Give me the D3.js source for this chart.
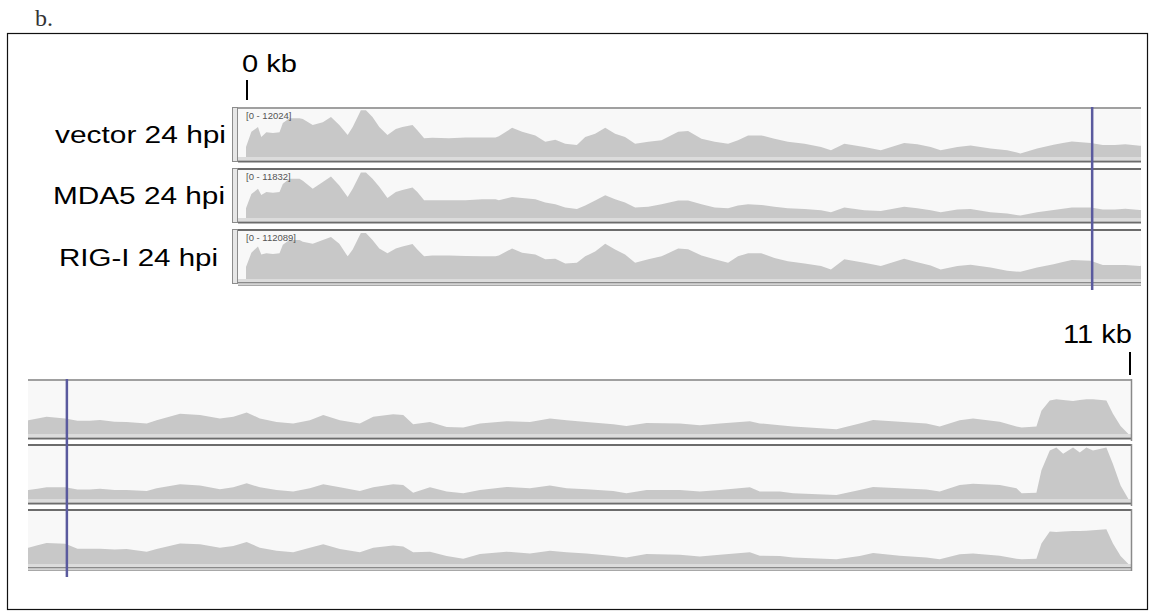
<!DOCTYPE html>
<html><head><meta charset="utf-8">
<script src="https://cdn.jsdelivr.net/npm/d3@7"></script>
<style>body{margin:0;background:#fff}svg{display:block}</style>
</head><body>
<svg id="c" width="1155" height="615"></svg>
<script>
// genomic position (bp) of each coverage sample
const positions = [0,31,69,88,117,155,193,212,250,308,327,384,442,489,537,585,614,661,690,728,767,814,862,900,958,986,1025,1072,1168,1264,1359,1436,1455,1531,1589,1665,1722,1780,1837,1904,1952,2009,2067,2124,2181,2239,2315,2391,2487,2544,2621,2697,2774,2831,2889,2965,3041,3118,3214,3309,3366,3443,3558,3653,3787,3863,3940,3997,4093,4169,4284,4380,4456,4552,4647,4700,4752,4860,4930,5000,5060,5144,5213,5329,5386,5521,5636,5751,5828,5905,5981,6077,6173,6269,6346,6442,6557,6634,6749,6807,6864,6961,7057,7153,7249,7402,7537,7652,7748,7863,8017,8093,8209,8401,8516,8631,8804,8861,8977,9053,9303,9437,9514,9668,9821,9898,10013,10090,10244,10340,10370,10455,10484,10532,10570,10609,10666,10705,10743,10781,10858,10896,10940,10985];
const vector24 = [2500,6300,7500,5000,6200,6000,6200,8500,9700,9700,9500,8000,8700,10000,8000,5500,7500,11700,11700,10000,7500,5500,7000,7500,8000,6700,4700,4800,4700,4900,4900,4900,5200,7300,6300,5400,3800,4300,3300,3000,5000,5800,7300,5800,5000,3300,3800,4200,6300,6500,4600,3800,3300,4200,5400,5400,4600,3800,3300,2500,1700,3300,2500,1700,3500,3200,2500,1700,2500,2900,2100,1700,900,2100,3100,3500,3900,3500,3000,3000,3200,2800,2700,2400,3100,4600,4300,3500,3900,4900,3500,2700,2400,3100,4300,3100,2400,3900,4500,4300,2200,2700,1600,1500,2400,2900,2700,3500,3100,2700,2200,1800,2500,2400,2000,2400,2900,2400,2000,1700,1100,2400,3200,2800,2400,1700,3100,3500,2800,1700,1500,1700,5300,7600,7900,7700,7500,7700,7900,7900,7600,4600,1800,0];
const mda524 = [2400,5900,7200,5700,6400,6200,6400,8400,9700,9700,9200,7200,8900,10200,8000,5200,7200,11200,11200,9700,7700,4900,6400,6900,7500,6400,4400,4400,4400,4400,4600,4600,4400,5200,4900,4600,3800,3400,2600,2200,3100,4300,5600,4600,3800,2600,2800,3400,4300,4300,3400,2600,2400,3100,3400,3200,2800,2400,2200,1900,1400,2600,1900,1700,2800,2400,1900,1400,2100,2200,1400,1100,600,1400,2000,2300,2600,2600,2100,2100,2300,2000,2000,1800,2400,3300,3000,2200,2600,3500,2600,2000,1700,2400,3300,2600,1800,2600,3300,3100,1400,2600,1700,1300,2000,2700,2400,3000,2400,2200,1800,1300,2000,2000,1700,2000,2600,1700,1700,1300,900,2000,2700,2400,2100,1700,3100,3400,3100,2400,1300,1400,6400,10800,11500,10100,11500,10400,11500,10800,11500,7800,3000,0];
const rigi24 = [3000,6600,8200,6200,6500,6300,6500,8600,9800,9800,9400,8900,9800,10600,8900,5700,7400,11600,11600,9800,7700,6500,7700,8200,8800,7400,5700,5900,5900,5800,5700,5700,5900,7700,6600,6200,5000,5100,3900,4100,5700,6900,8900,7400,6200,4100,5000,5700,7700,7500,5900,5000,4100,5700,6500,6500,5300,4500,3900,3300,2400,5000,4100,3300,5100,4200,3400,2400,3300,3600,2900,2100,1800,2900,3700,4300,4800,4600,3500,3500,3500,3300,3400,2800,3400,4700,4500,3700,4100,5000,3700,3000,2700,3700,4500,3400,2700,3700,4200,4000,2700,2800,1800,1200,2300,2800,2400,3000,2700,2400,1800,1500,2300,2100,1700,2100,2700,1900,1800,1500,1100,1800,2500,1900,1500,1100,2200,2400,1900,1200,1100,1200,4700,7400,7300,7400,7500,7500,7600,7700,7900,4700,1800,0];

const sampleNames = ["vector 24 hpi", "MDA5 24 hpi", "RIG-I 24 hpi"];
const rangeLabels = ["[0 - 12024]", "[0 - 11832]", "[0 - 112089]"];
const dataMax = [12024, 11832, 12089];
const series = [vector24, mda524, rigi24];
const panelLabel = "b.";
const tickLabels = ["0 kb", "11 kb"];
const tickPos = [0, 11000];
const topDomain = [0, 5150];
const bottomDomain = [4645, 11000];
const markerPos = 4869;

const svg = d3.select("#c");
const AREA = "#c8c8c8", BG = "#f8f8f8", DARK = "#6c6c6c", LIGHT = "#dcdcdc", BLUE = "#5a5a9e";
const SANS = "Liberation Sans, Arial, sans-serif";

svg.append("text").attr("x", 35).attr("y", 26).attr("font-family", "Liberation Serif, DejaVu Serif, serif")
  .attr("font-size", 24).attr("fill", "#333").text(panelLabel);
svg.append("rect").attr("x", 7.5).attr("y", 33.5).attr("width", 1140).attr("height", 576)
  .attr("fill", "none").attr("stroke", "#111").attr("stroke-width", 1.2);

const xTop = d3.scaleLinear().domain(topDomain).range([246, 1141]);
const xBot = d3.scaleLinear().domain(bottomDomain).range([28, 1131]);

const defs = svg.append("defs");
defs.append("clipPath").attr("id", "clipTop").append("rect").attr("x", 238).attr("y", 0).attr("width", 903).attr("height", 615);
defs.append("clipPath").attr("id", "clipBot").append("rect").attr("x", 28).attr("y", 0).attr("width", 1103).attr("height", 615);

function drawTrack(g, x, x0, x1, top, h, i, last, first) {
  const base = top + h;
  const y = d3.scaleLinear().domain([0, dataMax[i]]).range([base, top + 1]);
  g.append("rect").attr("x", x0).attr("y", top).attr("width", x1 - x0).attr("height", h).attr("fill", BG);
  const area = d3.area().x(d => x(d[0])).y0(base).y1(d => y(d[1])).curve(d3.curveLinear);
  g.append("path").datum(positions.map((p, k) => [p, series[i][k]]))
    .attr("d", area).attr("fill", AREA).attr("clip-path", g.attr("data-clip"));
  g.append("rect").attr("x", x0).attr("y", base).attr("width", x1 - x0).attr("height", 3).attr("fill", LIGHT);
  g.append("rect").attr("x", x0).attr("y", top - 1).attr("width", x1 - x0).attr("height", 2)
    .attr("fill", first ? "#a0a0a0" : DARK);
  if (last) {
    g.append("rect").attr("x", x0).attr("y", base + 3).attr("width", x1 - x0).attr("height", 1.5).attr("fill", "#8a8a8a");
    g.append("rect").attr("x", x0).attr("y", base + 5.5).attr("width", x1 - x0).attr("height", 1.5).attr("fill", "#a8a8a8");
  } else {
    g.append("rect").attr("x", x0).attr("y", base + 3.5).attr("width", x1 - x0).attr("height", 2).attr("fill", DARK);
  }
}

// top panel
const topTops = [108, 169, 230];
const gTop = svg.append("g").attr("data-clip", "url(#clipTop)");
topTops.forEach((t, i) => {
  gTop.append("rect").attr("x", 232.5).attr("y", t - 0.5).attr("width", 5).attr("height", 54)
    .attr("fill", "#e6e6e6").attr("stroke", "#8c8c8c").attr("stroke-width", 1);
  drawTrack(gTop, xTop, 238, 1141, t, 49, i, i === 2, i === 0);
  gTop.append("text").attr("x", 246).attr("y", t + 11).attr("font-family", SANS)
    .attr("font-size", 9.5).attr("fill", "#555").text(rangeLabels[i]);
});
const labelBase = [143, 204, 266];
const labelLeft = [55, 53, 59];
const labelWidth = [171, 172, 159];
sampleNames.forEach((n, i) => {
  svg.append("text").attr("x", labelLeft[i]).attr("y", labelBase[i])
    .attr("textLength", labelWidth[i]).attr("lengthAdjust", "spacingAndGlyphs")
    .attr("font-family", SANS).attr("font-size", 23).attr("fill", "#000").text(n);
});

// bottom panel
const botTops = [380, 445, 510];
const gBot = svg.append("g").attr("data-clip", "url(#clipBot)");
botTops.forEach((t, i) => {
  drawTrack(gBot, xBot, 28, 1131, t, 54, i, i === 2, i === 0);
  gBot.append("line").attr("x1", 1131.5).attr("x2", 1131.5).attr("y1", t - 1).attr("y2", t + 61)
    .attr("stroke", "#8a8a8a").attr("stroke-width", 1.5);
});

// marker lines
svg.append("line").attr("x1", xTop(markerPos)).attr("x2", xTop(markerPos)).attr("y1", 107).attr("y2", 290)
  .attr("stroke", BLUE).attr("stroke-width", 2.5);
svg.append("line").attr("x1", xBot(markerPos)).attr("x2", xBot(markerPos)).attr("y1", 379).attr("y2", 577)
  .attr("stroke", BLUE).attr("stroke-width", 2.5);

// kb ticks
svg.append("line").attr("x1", xTop(tickPos[0]) + 1).attr("x2", xTop(tickPos[0]) + 1).attr("y1", 80).attr("y2", 100)
  .attr("stroke", "#000").attr("stroke-width", 2);
svg.append("text").attr("x", 242).attr("y", 72).attr("font-family", SANS)
  .attr("textLength", 55).attr("lengthAdjust", "spacingAndGlyphs")
  .attr("font-size", 23).attr("fill", "#000").text(tickLabels[0]);
svg.append("line").attr("x1", xBot(tickPos[1]) - 1).attr("x2", xBot(tickPos[1]) - 1).attr("y1", 352).attr("y2", 375)
  .attr("stroke", "#000").attr("stroke-width", 2);
svg.append("text").attr("x", 1063).attr("y", 343).attr("font-family", SANS)
  .attr("textLength", 69).attr("lengthAdjust", "spacingAndGlyphs")
  .attr("font-size", 25).attr("fill", "#000").text(tickLabels[1]);
</script>
</body></html>
